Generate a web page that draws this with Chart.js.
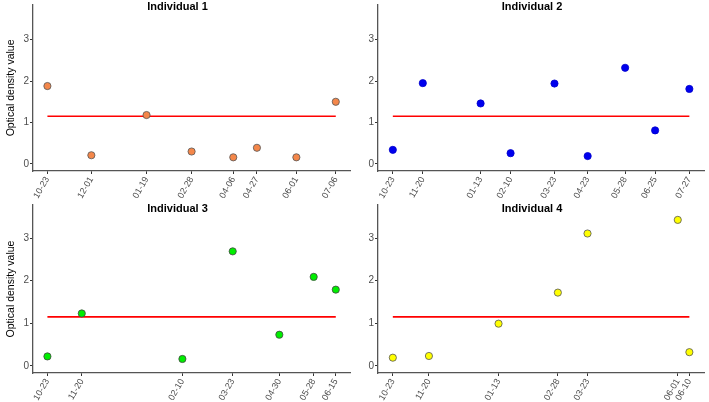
<!DOCTYPE html>
<html>
<head>
<meta charset="utf-8">
<script src="https://cdn.jsdelivr.net/npm/chart.js@4"></script>
<style>
  body { margin: 0; background: #fff; }
  #wrap { position: relative; width: 709px; height: 402px; overflow: hidden; }
  .panel { position: absolute; }
</style>
</head>
<body>
<div id="wrap">
  <div class="panel" style="left:0;top:0"><canvas id="c1" width="355" height="200"></canvas></div>
  <div class="panel" style="left:355px;top:0"><canvas id="c2" width="354" height="200"></canvas></div>
  <div class="panel" style="left:0;top:200px"><canvas id="c3" width="355" height="202"></canvas></div>
  <div class="panel" style="left:355px;top:200px"><canvas id="c4" width="354" height="202"></canvas></div>
</div>
<script>
// sampling dates (MM-DD) and optical density values per individual
const dates1 = ["10-23", "12-01", "01-19", "02-28", "04-06", "04-27", "06-01", "07-06"];
const values1 = [1.88, 0.21, 1.18, 0.30, 0.16, 0.39, 0.16, 1.50];

const dates2 = ["10-23", "11-20", "01-13", "02-10", "03-23", "04-23", "05-28", "06-25", "07-27"];
const values2 = [0.34, 1.95, 1.46, 0.26, 1.94, 0.19, 2.32, 0.81, 1.81];

const dates3 = ["10-23", "11-20", "02-10", "03-23", "04-30", "05-28", "06-15"];
const values3 = [0.22, 1.23, 0.16, 2.69, 0.73, 2.09, 1.79];

const dates4 = ["10-23", "11-20", "01-13", "02-28", "03-23", "06-01", "06-10"];
const values4 = [0.19, 0.23, 0.99, 1.72, 3.11, 3.43, 0.32];

const yTicks = [0, 1, 2, 3];
const threshold = 1.15;

// days since 10-23 (season runs Oct -> Jul)
function dayNum(md) {
    let [m, d] = md.split("-").map(Number);
    let y = m >= 9 ? 2018 : 2019;
    return (Date.UTC(y, m - 1, d) - Date.UTC(2018, 9, 23)) / 86400000;
}

const panelTitle = {
    id: "panelTitle",
    afterDraw(chart, args, opts) {
        let ctx = chart.ctx;
        ctx.save();
        ctx.font = "bold 11px 'Liberation Sans', Arial, sans-serif";
        ctx.fillStyle = "#000";
        ctx.textAlign = "center";
        ctx.textBaseline = "middle";
        ctx.fillText(opts.text, chart.width / 2, opts.y);
        ctx.restore();
    }
};

function makePanel(id, title, dates, values, fill, border, cfg) {
    let xs = dates.map(dayNum);
    let first = xs[0], last = xs[xs.length - 1];
    let pad = (last - first) * 0.05;
    let labelOf = {};
    xs.forEach((x, i) => labelOf[x] = dates[i]);

    new Chart(document.getElementById(id), {
        type: "scatter",
        data: {
            datasets: [
                {
                    data: xs.map((x, i) => ({ x: x, y: values[i] })),
                    backgroundColor: fill,
                    borderColor: border,
                    borderWidth: 0.8,
                    pointRadius: 3.6
                },
                {
                    type: "line",
                    data: [{ x: first, y: threshold }, { x: last, y: threshold }],
                    borderColor: "#ff0000",
                    borderWidth: 1.6,
                    pointRadius: 0
                }
            ]
        },
        options: {
            responsive: false,
            animation: false,
            layout: { padding: { top: cfg.top, right: 3, left: 0, bottom: 0 } },
            plugins: {
                legend: { display: false },
                tooltip: { enabled: false },
                panelTitle: { text: title, y: cfg.titleY }
            },
            scales: {
                x: {
                    type: "linear",
                    min: first - pad,
                    max: last + pad,
                    afterBuildTicks: s => { s.ticks = xs.map(v => ({ value: v })); },
                    afterFit: s => { s.height = cfg.xHeight; s.paddingLeft = 0; s.paddingRight = 0; },
                    ticks: {
                        autoSkip: false,
                        minRotation: 60,
                        maxRotation: 60,
                        padding: 1,
                        color: "#4d4d4d",
                        font: { size: 9, family: "'Liberation Sans', Arial, sans-serif" },
                        callback: v => labelOf[v]
                    },
                    grid: { drawOnChartArea: false, drawTicks: true, tickLength: 3, color: "#333" },
                    border: { color: "#555", width: 1.3 }
                },
                y: {
                    min: -0.17,
                    max: cfg.yMax,
                    afterBuildTicks: s => { s.ticks = yTicks.map(v => ({ value: v })); },
                    afterFit: s => { s.width = cfg.yWidth; s.paddingTop = 0; s.paddingBottom = 0; },
                    ticks: {
                        padding: 1,
                        color: "#4d4d4d",
                        font: { size: 10, family: "'Liberation Sans', Arial, sans-serif" }
                    },
                    grid: { drawOnChartArea: false, drawTicks: true, tickLength: 3, color: "#333" },
                    border: { color: "#555", width: 1.3 },
                    title: {
                        display: cfg.yTitle,
                        text: "Optical density value",
                        color: "#000",
                        padding: { top: 5, bottom: 0 },
                        font: { size: 10.5, family: "'Liberation Sans', Arial, sans-serif" }
                    }
                }
            }
        },
        plugins: [panelTitle]
    });
}

makePanel("c1", "Individual 1", dates1, values1, "#f4874a", "#555", { top: 0, yMax: 3.84, xHeight: 29, yWidth: 33, yTitle: true, titleY: 7 });
makePanel("c2", "Individual 2", dates2, values2, "#0000ee", "#0000cc", { top: 0, yMax: 3.84, xHeight: 29, yWidth: 23, yTitle: false, titleY: 7 });
makePanel("c3", "Individual 3", dates3, values3, "#00ee00", "#444", { top: 5, yMax: 3.78, xHeight: 29, yWidth: 33, yTitle: true, titleY: 9 });
makePanel("c4", "Individual 4", dates4, values4, "#ffff00", "#555", { top: 5, yMax: 3.78, xHeight: 29, yWidth: 23, yTitle: false, titleY: 9 });
</script>
</body>
</html>
